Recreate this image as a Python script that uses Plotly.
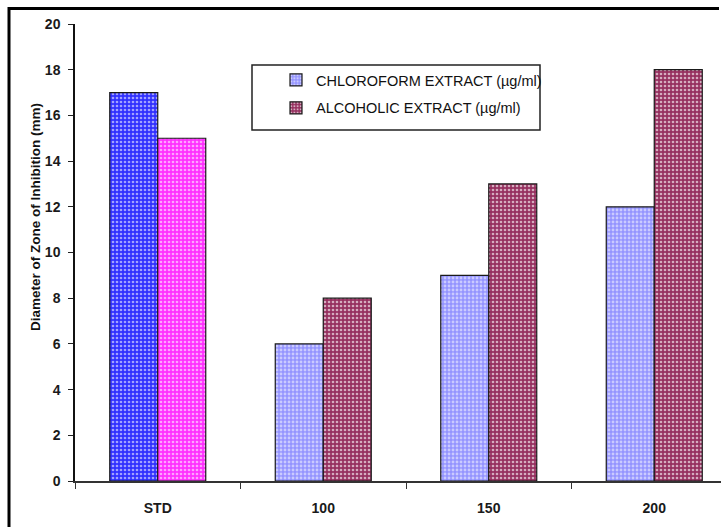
import plotly.graph_objects as go

# Data
categories = ["STD", "100", "150", "200"]
chloroform = [17, 6, 9, 12]
alcoholic = [15, 8, 13, 18]
series_names = ["CHLOROFORM EXTRACT (µg/ml)", "ALCOHOLIC EXTRACT (µg/ml)"]
y_title = "Diameter of Zone of Inhibition (mm)"

# Figure geometry (pixels)
W, H = 721, 529
ML, MR, MT, MB = 75, 0, 24, 48
PW, PH = W - ML - MR, H - MT - MB
CAT_W = 165.5  # pixel width of one category slot


def px_x(p):
    return (p - ML) / PW


def px_y(p):
    return (H - MB - p) / PH


def pattern(bg, shape=".", fg="#ffffff", op=0.55, size=4, sol=0.35):
    return dict(shape=shape, bgcolor=bg, fgcolor=fg, fgopacity=op,
                size=size, solidity=sol, fillmode="replace")


line = dict(color="#1a1a1a", width=1.2)

fig = go.Figure()

# STD bars carry their own colours; they share offset slots with the series
fig.add_trace(go.Bar(
    x=categories[:1], y=chloroform[:1], offsetgroup="a", showlegend=False,
    marker=dict(color="#3535ff", line=line, pattern=pattern("#3030ff")),
))
fig.add_trace(go.Bar(
    x=categories[:1], y=alcoholic[:1], offsetgroup="b", showlegend=False,
    marker=dict(color="#ff35ff", line=line, pattern=pattern("#ff30ff")),
))
fig.add_trace(go.Bar(
    x=categories[1:], y=chloroform[1:], offsetgroup="a", name=series_names[0],
    legendgroup="g1",
    marker=dict(color="#9c9cff", line=line,
                pattern=pattern("#9494ff", op=0.5, size=4, sol=0.4)),
))
fig.add_trace(go.Bar(
    x=categories[1:], y=alcoholic[1:], offsetgroup="b", name=series_names[1],
    legendgroup="g2",
    marker=dict(color="#993366", line=line, pattern=pattern("#96305f", op=0.6)),
))

tick_font = dict(family="Liberation Sans, Arial, sans-serif", size=14,
                 color="#1a1a1a", weight="bold")

fig.update_layout(
    width=W, height=H,
    margin=dict(l=ML, r=MR, t=MT, b=MB, pad=0),
    paper_bgcolor="white", plot_bgcolor="white",
    barmode="group", bargap=0.42, bargroupgap=0,
    font=dict(family="Liberation Sans, Arial, sans-serif", color="#111111"),
    xaxis=dict(
        type="category", range=[-0.5, -0.5 + PW / CAT_W],
        tickson="boundaries", ticks="outside", ticklen=6, tickwidth=1.2,
        tickcolor="#333333", showline=True, linecolor="#333333", linewidth=1.5,
        showgrid=False, zeroline=False, ticklabelstandoff=13,
        tickfont=tick_font,
    ),
    yaxis=dict(
        range=[0, 20], dtick=2, ticks="outside", ticklen=5, tickwidth=1.2,
        tickcolor="#222222", showline=True, linecolor="#111111", linewidth=1.5,
        showgrid=False, zeroline=False, ticklabelstandoff=5,
        tickfont=tick_font,
    ),
    legend=dict(
        x=px_x(276), y=px_y(64), xanchor="left", yanchor="top",
        bgcolor="rgba(0,0,0,0)", borderwidth=0,
        font=dict(size=14.5, color="#111111"),
        tracegroupgap=6, itemwidth=30,
    ),
    showlegend=True,
)

# Y-axis title
fig.add_annotation(
    text=f"<b>{y_title}</b>", xref="paper", yref="paper",
    x=px_x(36), y=px_y(217), xanchor="center", yanchor="middle",
    textangle=-90, showarrow=False,
    font=dict(size=13.5, color="#111111"),
)

# Legend frame
fig.add_shape(
    type="rect", xref="paper", yref="paper",
    x0=px_x(252), x1=px_x(540), y0=px_y(130), y1=px_y(65),
    line=dict(color="#222222", width=1.5), fillcolor="rgba(0,0,0,0)",
)

# Outer chart frame: left and top edges, kept inside the page
x_l, y_t = px_x(9), px_y(8.5)
fig.add_shape(
    type="path", xref="paper", yref="paper",
    path=f"M {x_l} {px_y(H - 2)} L {x_l} {y_t} L {px_x(W - 2)} {y_t}",
    line=dict(color="#000000", width=3),
)

fig.write_html("out.html", config={"displayModeBar": False})
